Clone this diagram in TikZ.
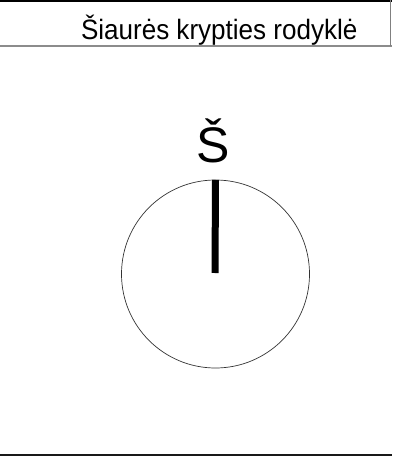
\documentclass[tikz,border=0pt]{standalone}
\usepackage{fontspec}
\setmainfont{Liberation Sans}
\begin{document}
\begin{tikzpicture}[x=1pt,y=-1pt,
  rule/.style={line width=2pt},
  lbl/.style={inner sep=0pt,outer sep=0pt}]
\useasboundingbox (0,0) rectangle (392,462);
\draw[rule,black] (0,1.5) -- (392,1.5);
\draw[rule,gray!90] (0,46.5) -- (392,46.5);
\draw[rule,black!90] (0,455) -- (392,455);
\draw[line width=0.8pt,gray] (390.5,0) -- (390.5,46);
\node[lbl,anchor=base west,font=\fontsize{28}{30}\selectfont] (title) at (81,40) {\scalebox{0.93}[1]{Šiaurės krypties rodyklė}};
\node[lbl,draw,circle,line width=0.7pt,black!80,minimum size=188pt] (c) at (215.5,274) {};
\coordinate (needleEnd) at (215,273);
\draw[line width=7pt] (c.north) -- (needleEnd);
\node[lbl,anchor=base,font=\fontsize{50}{55}\selectfont] (N) at (213,163) {Š};
\end{tikzpicture}
\end{document}
